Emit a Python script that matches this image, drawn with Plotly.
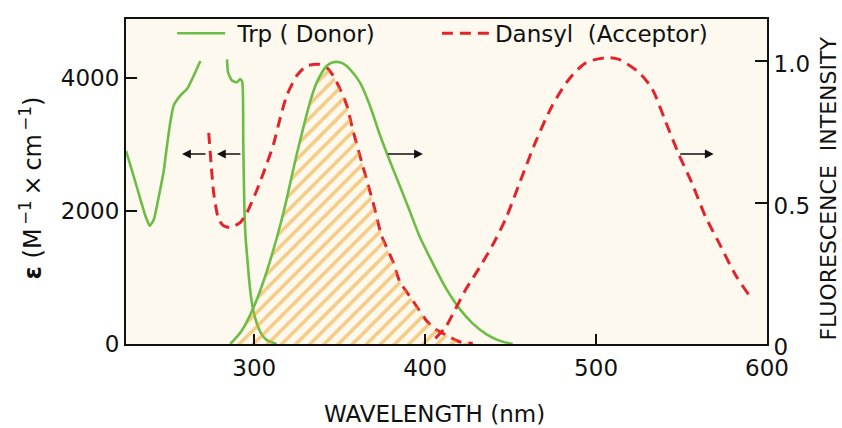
import numpy as np
import plotly.graph_objects as go

# ---------------- data ----------------
# Trp (donor) absorption, epsilon (M^-1 cm^-1); None = gap in the original curve
trp_abs_wl = [225, 229.6, 233.5, 236.4, 238.9, 241.3, 244.2, 247.1, 249.1, 251.0, 253.0, 256.9, 260.8, 264.6, 268.5,
              None,
              284.1, 284.7, 287.0, 289.9, 291.8, 293.0, 293.6, 294.2, 294.9, 295.9, 297.7, 299.5, 301.6, 304.0, 307.4, 313.2]
trp_abs_eps = [2900, 2509, 2165, 1921, 1774, 1871, 2215, 2606, 3000, 3341, 3587, 3734, 3832, 4028, 4249,
               None,
               4273, 4077, 3955, 3930, 3979, 3940, 3000, 2100, 1627, 1300, 794, 500, 304, 160, 59, 0]

# Trp (donor) fluorescence emission, relative intensity
trp_em_wl = [286.0, 292.8, 299.6, 305.4, 311.3, 317.1, 321.0, 324.9, 328.7, 332.7, 336.6, 342.4, 346.2,
             350.0, 354.1, 361.8, 367.6, 373.5, 379.3, 385.1, 391.0, 396.8, 404.5, 412.4, 420.1, 427.9, 435.7,
             443.4, 451.2]
trp_em_int = [0.0, 0.048, 0.129, 0.221, 0.335, 0.464, 0.567, 0.671, 0.764, 0.856, 0.925, 0.983, 0.996,
              0.996, 0.983, 0.925, 0.844, 0.740, 0.648, 0.560, 0.470, 0.380, 0.285, 0.195, 0.125, 0.072, 0.035,
              0.012, 0.0]

# Dansyl (acceptor) absorption, epsilon (M^-1 cm^-1)
dns_abs_wl = [273.4, 274.8, 276.3, 279.2, 282.1, 286.0, 291.8, 295.7, 301.6, 307.4, 311.3, 315.2, 319.1,
              324.9, 330.7, 336.6, 341.4, 346.2, 350.1, 354.1, 357.9, 363.7, 369.6, 374.5, 381.2, 385.1, 392.9,
              400.7, 405.5, 412.4, 420.1, 427.9]
dns_abs_eps = [3171, 2706, 2265, 1872, 1775, 1750, 1824, 1970, 2313, 2706, 3000, 3393, 3735,
               4029, 4176, 4201, 4176, 4029, 3834, 3588, 3195, 2657, 2118, 1628, 1235, 941, 647,
               353, 230, 132, 34, 10]

# Dansyl (acceptor) fluorescence emission, relative intensity
dns_em_wl = [406.0, 412.0, 416.2, 424.0, 431.8, 439.5, 447.3, 455.1, 464.8, 474.5, 484.3, 494.0, 505.7, 513.4,
             525.1, 532.8, 540.6, 548.4, 556.2, 563.9, 571.7, 581.5, 589.2]
dns_em_int = [0.02, 0.06, 0.106, 0.195, 0.27, 0.35, 0.445, 0.567, 0.717, 0.844, 0.937, 0.994, 1.012, 1.006,
              0.960, 0.902, 0.787, 0.671, 0.567, 0.452, 0.360, 0.245, 0.175]

# direction arrows (which axis each curve belongs to): tail wavelength, head wavelength, level on epsilon axis
arrow_tail_wl = [272.4, 292.8, 377.4, 548.4]
arrow_head_wl = [257.8, 278.2, 398.7, 568.8]
arrow_level_eps = [2853, 2853, 2853, 2853]

x_ticks = [300, 400, 500, 600]
y_left_ticks = [0, 2000, 4000]
y_right_ticks = [0, 0.5, 1.0]
y_right_ticktext = ["0", "0.5", "1.0"]

X_RANGE = [225, 600]
Y_LEFT_MAX = 4880
Y_RIGHT_MAX = 1.149

# ---------------- styles ----------------
GREEN = "#6bbd45"
RED = "#e3232c"
ORANGE = "#eea020"
BG = "#fdf9ee"
INK = "#111111"
FONT = "DejaVu Sans"
FS = 23

# ---------------- overlap (spectral overlap, hatched) ----------------
scale = Y_RIGHT_MAX / Y_LEFT_MAX  # epsilon -> right-axis units (both axes share the zero line)
lo = max(min(trp_em_wl), min(dns_abs_wl))
hi = min(max(trp_em_wl), max(dns_abs_wl))
grid = np.unique(np.array([w for w in trp_em_wl + dns_abs_wl if lo <= w <= hi]))
em_i = np.interp(grid, trp_em_wl, trp_em_int)
ab_i = np.interp(grid, dns_abs_wl, np.array(dns_abs_eps) * scale)
overlap = np.minimum(em_i, ab_i)

fig = go.Figure()

fig.add_trace(go.Scatter(
    x=grid, y=overlap, yaxis="y2", mode="lines", line=dict(width=0, color=ORANGE),
    fill="tozeroy", fillcolor="rgba(0,0,0,0)",
    fillpattern=dict(shape="/", fgcolor=ORANGE, bgcolor="rgba(0,0,0,0)", size=10, solidity=0.36),
    showlegend=False, hoverinfo="skip"))

fig.add_trace(go.Scatter(
    x=trp_abs_wl, y=trp_abs_eps, mode="lines", connectgaps=False,
    line=dict(color=GREEN, width=2.6, shape="spline", smoothing=0.5),
    name="\u00a0Trp ( Donor)", legendgroup="trp", showlegend=True, legend="legend"))
fig.add_trace(go.Scatter(
    x=trp_em_wl, y=trp_em_int, yaxis="y2", mode="lines",
    line=dict(color=GREEN, width=2.6, shape="spline", smoothing=0.8),
    name="Trp ( Donor)", legendgroup="trp", showlegend=False))

fig.add_trace(go.Scatter(
    x=dns_abs_wl, y=dns_abs_eps, mode="lines",
    line=dict(color=RED, width=3, dash="11px,7px", shape="spline", smoothing=0.6),
    name="Dansyl  (Acceptor)", legendgroup="dns", showlegend=True, legend="legend2"))
fig.add_trace(go.Scatter(
    x=dns_em_wl, y=dns_em_int, yaxis="y2", mode="lines",
    line=dict(color=RED, width=3, dash="11px,7px", shape="spline", smoothing=0.8),
    name="Dansyl  (Acceptor)", legendgroup="dns", showlegend=False))

for t, h, lv in zip(arrow_tail_wl, arrow_head_wl, arrow_level_eps):
    fig.add_annotation(x=h, y=lv, ax=t, ay=lv, xref="x", yref="y", axref="x", ayref="y",
                       showarrow=True, arrowhead=2, arrowsize=1.1, arrowwidth=1.6,
                       arrowcolor=INK, text="")

axis_common = dict(showgrid=False, zeroline=False, showline=True, linecolor=INK, linewidth=2,
                   ticks="inside", tickcolor=INK, tickwidth=2,
                   tickfont=dict(family=FONT, size=FS, color=INK))

fig.update_layout(
    width=842, height=428, autosize=False,
    margin=dict(l=126, r=75, t=12, b=84),
    paper_bgcolor="white", plot_bgcolor=BG,
    font=dict(family=FONT, size=FS, color=INK),
    xaxis=dict(range=X_RANGE, tickvals=x_ticks, ticklen=10, mirror=True, ticklabelstandoff=2, **axis_common),
    yaxis=dict(range=[0, Y_LEFT_MAX], tickvals=y_left_ticks, ticklen=11, **axis_common),
    yaxis2=dict(range=[0, Y_RIGHT_MAX], tickvals=y_right_ticks, ticktext=y_right_ticktext, ticklen=12,
                ticklabelshift=3, overlaying="y", side="right", **axis_common),
    legend=dict(x=0.072, y=0.956, xanchor="left", yanchor="middle", bgcolor="rgba(0,0,0,0)",
                font=dict(family=FONT, size=FS), itemwidth=48, orientation="h"),
    legend2=dict(x=0.485, y=0.956, xanchor="left", yanchor="middle", bgcolor="rgba(0,0,0,0)",
                 font=dict(family=FONT, size=FS), itemwidth=48, orientation="h"),
    showlegend=True,
)

fig.add_annotation(text="WAVELENGTH (nm)", xref="paper", yref="paper", x=0.4805, y=-0.214,
                   xanchor="center", yanchor="middle", showarrow=False, font=dict(family=FONT, size=FS))
fig.add_annotation(text="<b>ε</b> (M<sup>\u2009−1</sup>\u2009×\u2009cm<sup>\u2009−1</sup>)", xref="paper", yref="paper",
                   x=-0.148, y=0.479, xanchor="center", yanchor="middle", textangle=-90, showarrow=False,
                   font=dict(family=FONT, size=24))
fig.add_annotation(text="FLUORESCENCE  INTENSITY", xref="paper", yref="paper", x=1.0955, y=0.479,
                   xanchor="center", yanchor="middle", textangle=-90, showarrow=False,
                   font=dict(family=FONT, size=22))

fig.write_html("out.html", config={"displayModeBar": False},
               post_script="document.body.style.margin='0';document.body.style.overflow='hidden';")
